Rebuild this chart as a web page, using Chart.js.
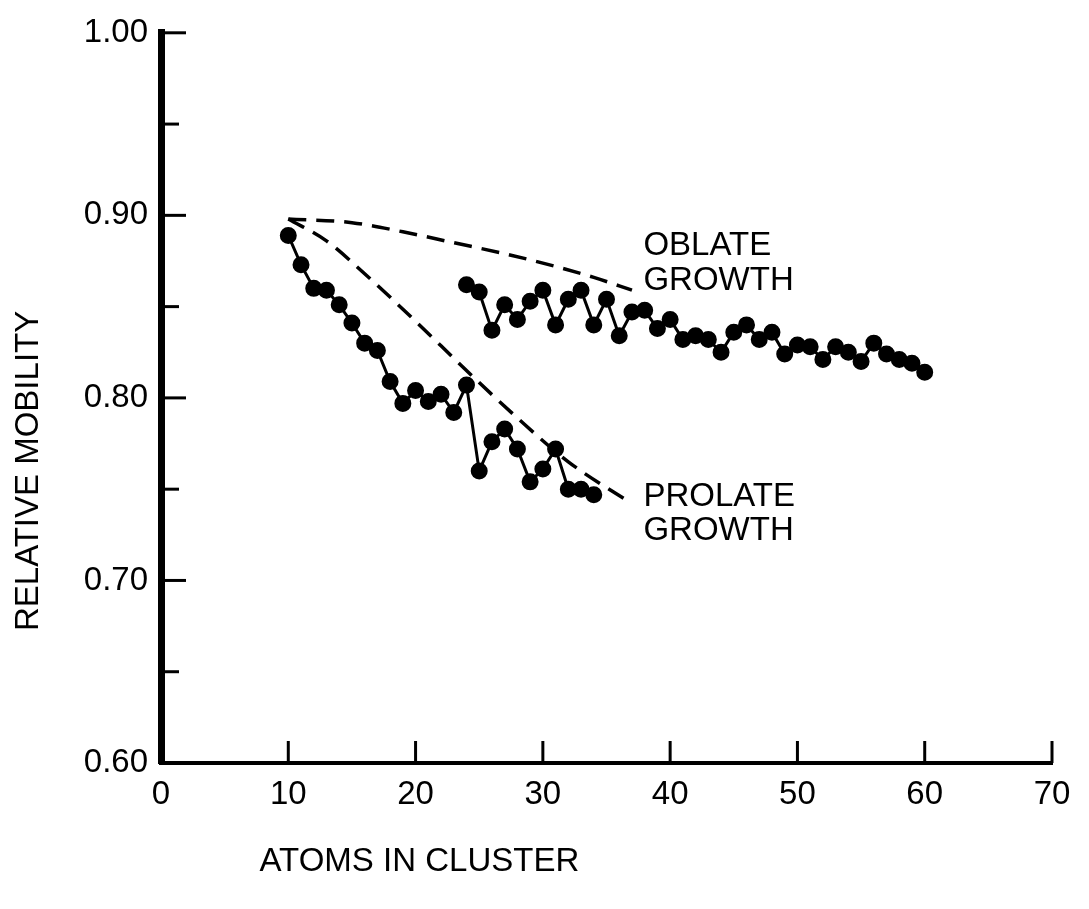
<!DOCTYPE html>
<html>
<head>
<meta charset="utf-8">
<script src="https://cdn.jsdelivr.net/npm/chart.js@4"></script>
<style>
  body { margin: 0; background: #fff; }
  canvas { display: block; }
</style>
</head>
<body>
<canvas id="mobilityChart" width="1089" height="909"></canvas>
<script>
"use strict";

// measured points, one per cluster size
const prolateAtoms = [10, 11, 12, 13, 14, 15, 16, 17, 18, 19, 20, 21, 22, 23, 24, 25, 26, 27, 28, 29, 30, 31, 32, 33, 34];
const prolateMobility = [0.889, 0.873, 0.860, 0.859, 0.851, 0.841, 0.830, 0.826, 0.809, 0.797, 0.804, 0.798, 0.802,
    0.792, 0.807, 0.760, 0.776, 0.783, 0.772, 0.754, 0.761, 0.772, 0.750, 0.750, 0.747];

const oblateAtoms = [24, 25, 26, 27, 28, 29, 30, 31, 32, 33, 34, 35, 36, 37, 38, 39, 40, 41, 42,
    43, 44, 45, 46, 47, 48, 49, 50, 51, 52, 53, 54, 55, 56, 57, 58, 59, 60];
const oblateMobility = [0.862, 0.858, 0.837, 0.851, 0.843, 0.853, 0.859, 0.840, 0.854, 0.859, 0.840, 0.854, 0.834,
    0.847, 0.848, 0.838, 0.843, 0.832, 0.834, 0.832, 0.825, 0.836, 0.840, 0.832, 0.836, 0.824, 0.829,
    0.828, 0.821, 0.828, 0.825, 0.820, 0.830, 0.824, 0.821, 0.819, 0.814];

// dashed model curves
const oblateCurveAtoms = [10, 15, 19, 23, 27, 31, 34, 37];
const oblateCurveMobility = [0.898, 0.896, 0.891, 0.885, 0.879, 0.872, 0.866, 0.859];
const prolateCurveAtoms = [10, 13, 16, 20, 24, 28, 32, 37];
const prolateCurveMobility = [0.898, 0.886, 0.868, 0.842, 0.815, 0.789, 0.765, 0.742];

const xTickValues = [0, 10, 20, 30, 40, 50, 60, 70];
const yTickLabels = ['0.60', '0.70', '0.80', '0.90', '1.00'];

const curveLabels = [
    { text: 'OBLATE', x: 37.9, y: 0.883 },
    { text: 'GROWTH', x: 37.9, y: 0.864 },
    { text: 'PROLATE', x: 37.9, y: 0.746 },
    { text: 'GROWTH', x: 37.9, y: 0.727 }
];

const FONT = '"Liberation Sans", Arial, sans-serif';

function toPoints(xs, ys) {
    return xs.map((x, i) => ({ x: x, y: ys[i] }));
}

function seriesStyle(data) {
    return {
        data: data,
        showLine: true,
        borderColor: '#000',
        backgroundColor: '#000',
        borderWidth: 3,
        pointRadius: 7,
        pointHoverRadius: 7,
        tension: 0
    };
}

function curveStyle(data) {
    return {
        data: data,
        showLine: true,
        borderColor: '#000',
        borderWidth: 3.5,
        borderDash: [18, 10],
        pointRadius: 0,
        cubicInterpolationMode: 'monotone'
    };
}

// inward tick marks, axis titles and curve labels
const decorations = {
    id: 'decorations',
    afterDraw(chart) {
        const ctx = chart.ctx;
        const xs = chart.scales.x;
        const ys = chart.scales.y;
        const area = chart.chartArea;
        ctx.save();
        ctx.strokeStyle = '#000';
        ctx.lineWidth = 3;

        ys.ticks.forEach(t => {
            const py = ys.getPixelForValue(t.value);
            const major = Math.abs(t.value * 10 - Math.round(t.value * 10)) < 1e-6;
            ctx.beginPath();
            ctx.moveTo(area.left, py);
            ctx.lineTo(area.left + (major ? 25 : 18), py);
            ctx.stroke();
        });

        xs.ticks.forEach(t => {
            if (t.value === 0) return;
            const px = xs.getPixelForValue(t.value);
            ctx.beginPath();
            ctx.moveTo(px, area.bottom);
            ctx.lineTo(px, area.bottom - 22);
            ctx.stroke();
        });

        ctx.fillStyle = '#000';
        ctx.font = '33px ' + FONT;
        ctx.textAlign = 'left';
        ctx.textBaseline = 'middle';
        curveLabels.forEach(l => {
            ctx.fillText(l.text, xs.getPixelForValue(l.x), ys.getPixelForValue(l.y));
        });

        ctx.textAlign = 'center';
        ctx.fillText('ATOMS IN CLUSTER', xs.getPixelForValue(20.3), area.bottom + 99);

        ctx.translate(29, ys.getPixelForValue(0.76));
        ctx.rotate(-Math.PI / 2);
        ctx.fillText('RELATIVE MOBILITY', 0, 0);
        ctx.restore();
    }
};

new Chart(document.getElementById('mobilityChart'), {
    type: 'scatter',
    data: {
        datasets: [
            seriesStyle(toPoints(prolateAtoms, prolateMobility)),
            seriesStyle(toPoints(oblateAtoms, oblateMobility)),
            curveStyle(toPoints(oblateCurveAtoms, oblateCurveMobility)),
            curveStyle(toPoints(prolateCurveAtoms, prolateCurveMobility))
        ]
    },
    options: {
        responsive: false,
        animation: false,
        layout: { padding: { top: 29, right: 37, left: 0, bottom: 0 } },
        plugins: {
            legend: { display: false },
            tooltip: { enabled: false }
        },
        scales: {
            x: {
                type: 'linear',
                min: 0,
                max: 70,
                afterFit: scale => { scale.height = 146; },
                afterBuildTicks: scale => { scale.ticks = xTickValues.map(v => ({ value: v })); },
                grid: { display: false, drawTicks: false },
                border: { display: true, color: '#000', width: 4 },
                ticks: {
                    color: '#000',
                    padding: 12,
                    maxRotation: 0,
                    autoSkip: false,
                    font: { family: FONT, size: 33 }
                }
            },
            y: {
                type: 'linear',
                min: 0.6,
                max: 1.0,
                afterFit: scale => { scale.width = 161; },
                grid: { display: false, drawTicks: false },
                border: { display: true, color: '#000', width: 7 },
                ticks: {
                    stepSize: 0.05,
                    color: '#000',
                    padding: 13,
                    autoSkip: false,
                    font: { family: FONT, size: 33 },
                    callback: function(value) {
                        const label = value.toFixed(2);
                        return yTickLabels.includes(label) ? label : '';
                    }
                }
            }
        }
    },
    plugins: [decorations]
});
</script>
</body>
</html>
